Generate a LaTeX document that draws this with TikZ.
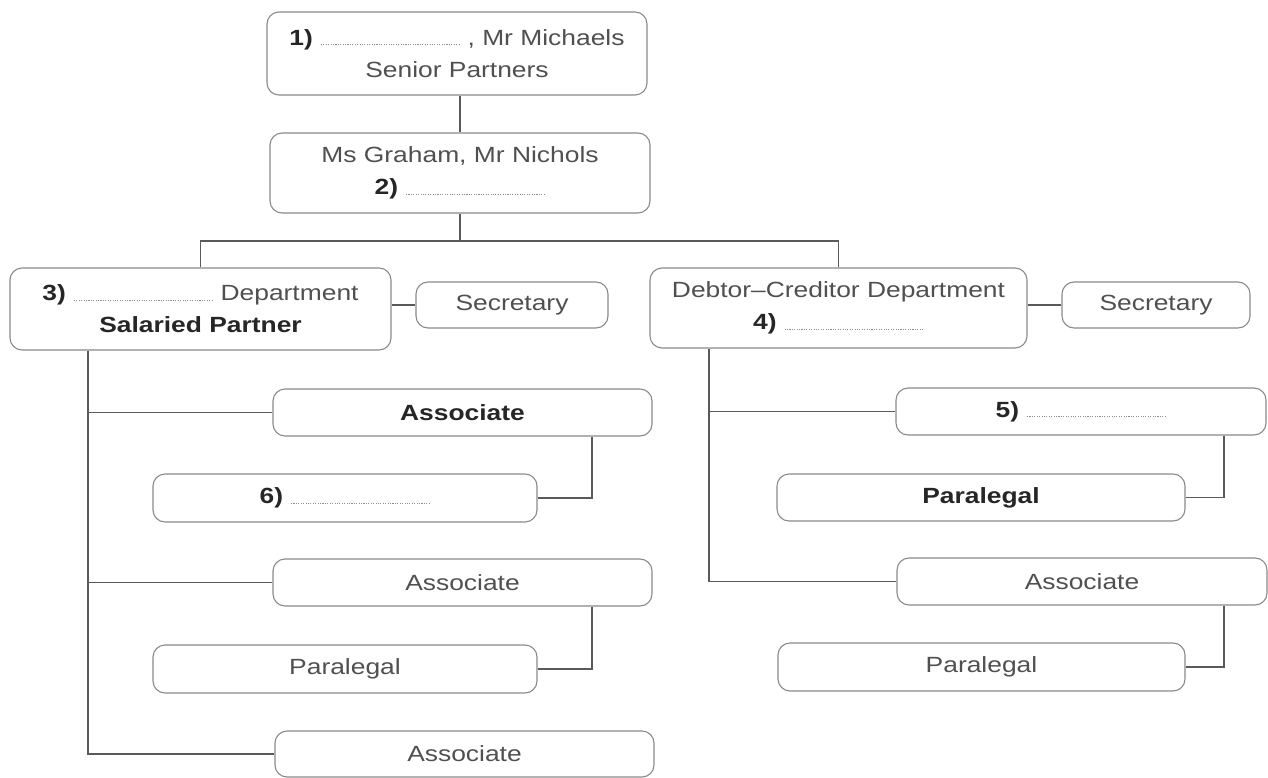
\documentclass[tikz,border=0pt]{standalone}
\usepackage{fontspec}
\setmainfont{Liberation Sans}[FakeStretch=1.2]
\definecolor{txt}{HTML}{505050}
\definecolor{btxt}{HTML}{262626}
\definecolor{edge}{HTML}{8A8A8A}
\definecolor{conn}{HTML}{5A5A5A}
\definecolor{dots}{HTML}{8C8C8C}
\newcommand\blankline{{\color{dots}\leavevmode\xleaders\hbox to 2.4pt{\hss\rule{1.1pt}{1.1pt}\hss}\hskip 140pt\relax}}
\newcommand\num[1]{{\bfseries\color{btxt}#1}}
\tikzset{
  box/.style={draw=edge, line width=1.1pt, rounded corners=12pt, fill=white,
    text=txt, font=\fontsize{22}{32}\selectfont, align=center, inner sep=0pt},
  conline/.style={draw=conn, line width=1.6pt}
}
\begin{document}
\begin{tikzpicture}[x=1pt,y=-1pt]
\useasboundingbox (0,0) rectangle (1268,778);
% top
\node[box, minimum width=380pt, minimum height=83pt] (A) at (457,53.5)
  {\num{1)}\ \blankline\ , Mr Michaels\\Senior Partners};
\node[box, minimum width=380pt, minimum height=80pt] (B) at (460,173)
  {Ms Graham, Mr Nichols\\\num{2)}\ \blankline};
% departments
\node[box, minimum width=381pt, minimum height=82pt] (C) at (200.5,309)
  {\num{3)}\ \blankline\ Department\\\num{Salaried Partner}};
\node[box, minimum width=192pt, minimum height=46pt] (SL) at (512,305) {Secretary};
\node[box, minimum width=377pt, minimum height=80pt] (D) at (838.5,308)
  {Debtor–Creditor Department\\\num{4)}\ \blankline};
\node[box, minimum width=188pt, minimum height=46pt] (SR) at (1156,305) {Secretary};
% left column
\node[box, minimum width=379pt, minimum height=47pt] (AL1) at (462.5,412.5) {\num{Associate}};
\node[box, minimum width=384pt, minimum height=48pt] (L6) at (345,498) {\num{6)}\ \blankline};
\node[box, minimum width=379pt, minimum height=47pt] (AL2) at (462.5,582.5) {Associate};
\node[box, minimum width=384pt, minimum height=48pt] (PL2) at (345,669) {Paralegal};
\node[box, minimum width=379pt, minimum height=46pt] (AL3) at (464.5,754) {Associate};
% right column
\node[box, minimum width=370pt, minimum height=47pt] (R5) at (1081,411.5) {\num{5)}\ \blankline};
\node[box, minimum width=408pt, minimum height=47pt] (PR1) at (981,497.5) {\num{Paralegal}};
\node[box, minimum width=370pt, minimum height=47pt] (AR2) at (1082,581.5) {Associate};
\node[box, minimum width=407pt, minimum height=48pt] (PR2) at (981.5,667) {Paralegal};
% helper coordinates
\coordinate (jy) at (0,241);
\coordinate (lx) at (88,0);
\coordinate (rx) at (709,0);
\coordinate (slx) at (592,0);
\coordinate (srx) at (1224,0);
% connectors
\draw[conline] (B.north |- A.south) -- (B.north);
\draw[conline] (B.south) -- (B.south |- jy);
\draw[conline] (C.north) -- (C.north |- jy) -- (D.north |- jy) -- (D.north);
\draw[conline] (SL.west -| C.east) -- (SL.west);
\draw[conline] (SR.west -| D.east) -- (SR.west);
\draw[conline] (lx |- C.south) -- (lx |- AL3.west) -- (AL3.west);
\draw[conline] (lx |- AL1.west) -- (AL1.west);
\draw[conline] (lx |- AL2.west) -- (AL2.west);
\draw[conline] (slx |- AL1.south) |- (L6.east);
\draw[conline] (slx |- AL2.south) |- (PL2.east);
\draw[conline] (rx |- D.south) -- (rx |- AR2.west) -- (AR2.west);
\draw[conline] (rx |- R5.west) -- (R5.west);
\draw[conline] (srx |- R5.south) |- (PR1.east);
\draw[conline] (srx |- AR2.south) |- (PR2.east);
\end{tikzpicture}
\end{document}
